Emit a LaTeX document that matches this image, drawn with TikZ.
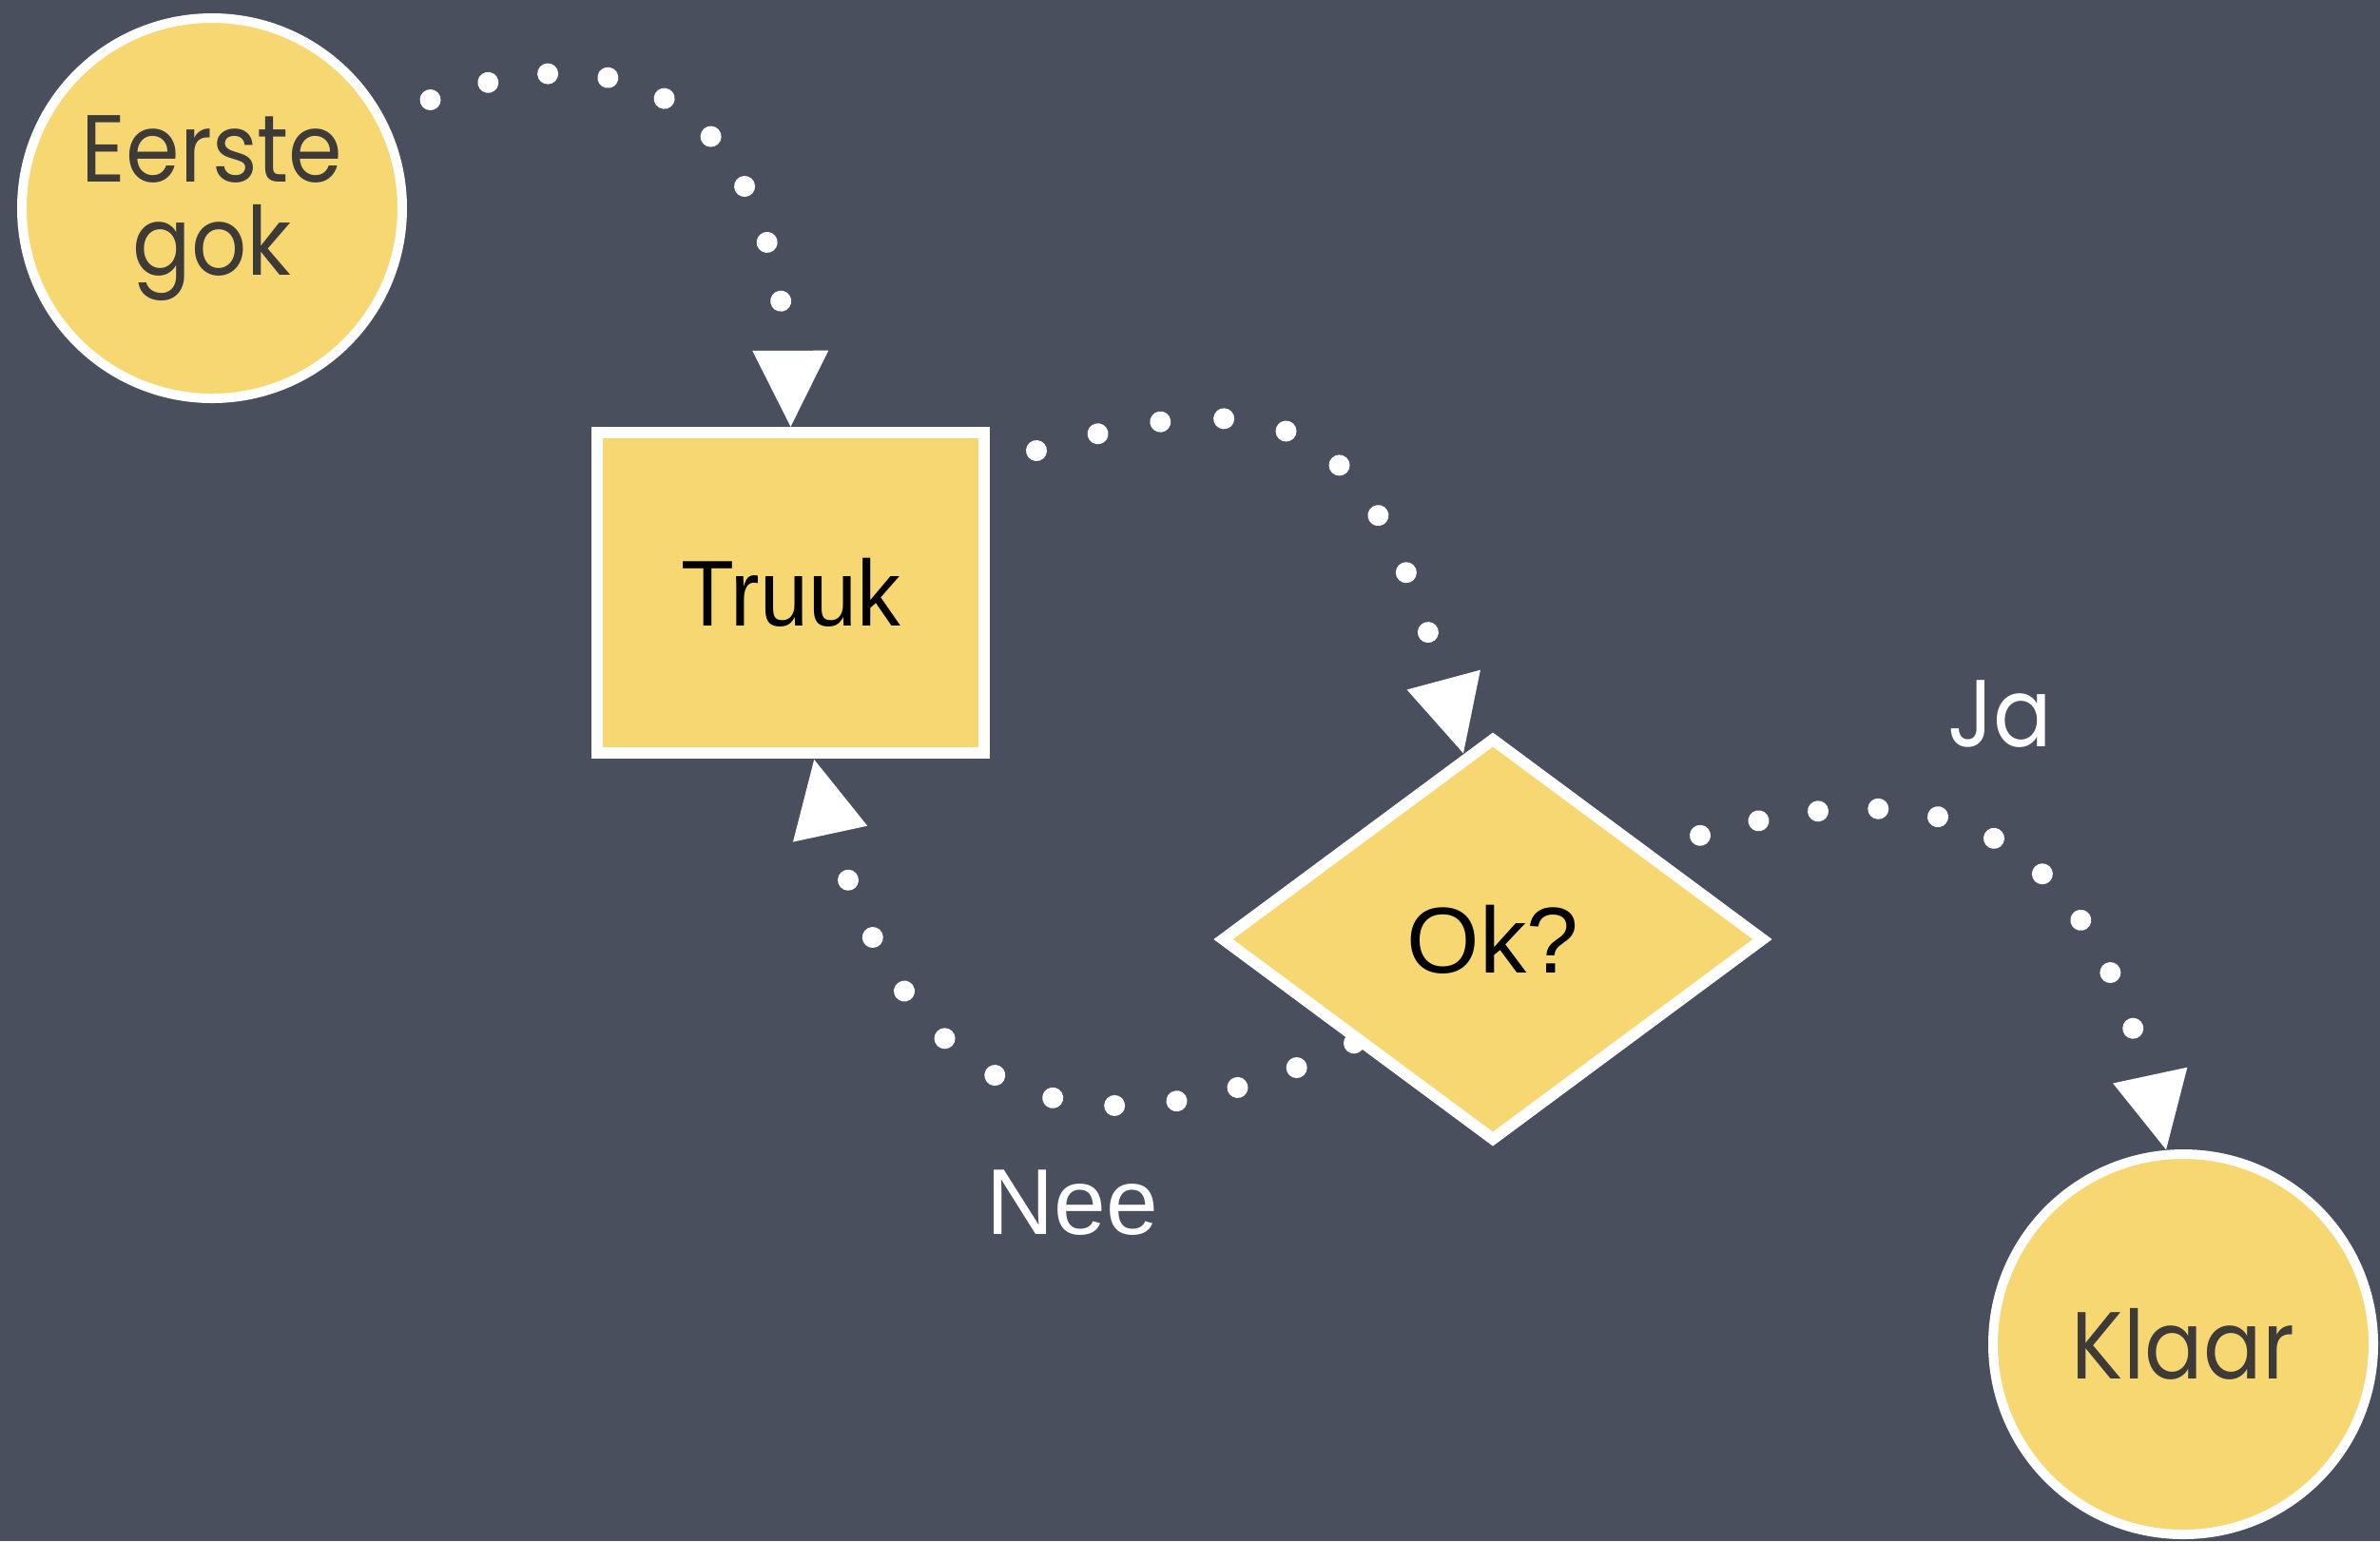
\documentclass[tikz,border=0pt]{standalone}
\usepackage{fontspec}
\usetikzlibrary{shapes.geometric,backgrounds,decorations.markings}
\newfontfamily\gothic{Poppins}[FakeStretch=0.91]
\newfontfamily\helv{Liberation Sans}
\definecolor{board}{RGB}{73,79,93}
\definecolor{chalkyellow}{RGB}{247,215,114}
\definecolor{inkgray}{RGB}{61,58,55}
\tikzset{
  terminal/.style={circle,draw=white,line width=1mm,fill=chalkyellow,minimum size=4cm,inner sep=0pt,
    text=inkgray,align=center,font=\gothic\fontsize{28.5}{28}\selectfont},
  actionbox/.style={rectangle,draw=white,line width=1.2mm,fill=chalkyellow,minimum width=4.07cm,minimum height=3.37cm,
    inner sep=0pt,font=\helv\fontsize{28}{28}\selectfont},
  question/.style={diamond,draw=white,line width=1.2mm,fill=chalkyellow,minimum width=5.72cm,minimum height=4.25cm,
    inner sep=0pt,font=\helv\fontsize{28}{28}\selectfont},
  % #1 = number of gaps between the dots
  dots/.style={color=white,
    postaction={decorate,decoration={markings,
      mark=between positions 0 and {\pgfdecoratedpathlength-12.8mm} step {(\pgfdecoratedpathlength-13.3mm)/#1}
        with {\fill (0,0) circle (1.1mm);}}},
    postaction={decorate,decoration={markings,
      mark=at position 0.995 with {\fill (0.3mm,0) -- (-7.7mm,4mm) -- (-7.7mm,-4mm) -- cycle;}}}},
  answer/.style={text=white,inner sep=0pt}
}

\begin{document}
\begin{tikzpicture}
    \useasboundingbox (0,0) rectangle (25.03,-16.21);
    \begin{scope}[on background layer]
      \fill[board] (0,0) rectangle (25.03,-16.21); % chalkboard
    \end{scope}

    % Shapes
    \node[terminal] (gok) at (2.23,-2.19) {Eerste\\gok};
    \node[actionbox] (truuk) at (8.315,-6.235) {\scalebox{0.93}[1]{Truuk}};
    \node[question] (ok) at (15.70,-9.88) {Ok?};
    \node[terminal] (klaar) at (22.96,-14.14) {Klaar};

    % Labels
    \node[answer,font=\gothic\fontsize{28.5}{28}\selectfont] (ja) at (21.03,-7.51) {Ja};
    \node[answer,font=\helv\fontsize{28}{28}\selectfont] (nee) at (11.28,-12.65) {Nee};

    % Dotted arrows
    \begin{scope}[on background layer]
      \path[dots=8] ([shift={(0.52,0.115)}]gok.30) to[out=20,in=90,looseness=1.4] (truuk.north);
      \path[dots=8] ([shift={(0.49,-0.25)}]truuk.north east) to[out=17,in=105,looseness=1.5] (ok.99);
      \path[dots=10] (ok.south west) to[out=205,in=-78,looseness=1.4] (truuk.-82);
      \path[dots=9] ([xshift=0.72cm]ok.north east) to[out=16,in=102,looseness=1.35] (klaar.95);
    \end{scope}
\end{tikzpicture}
\end{document}
